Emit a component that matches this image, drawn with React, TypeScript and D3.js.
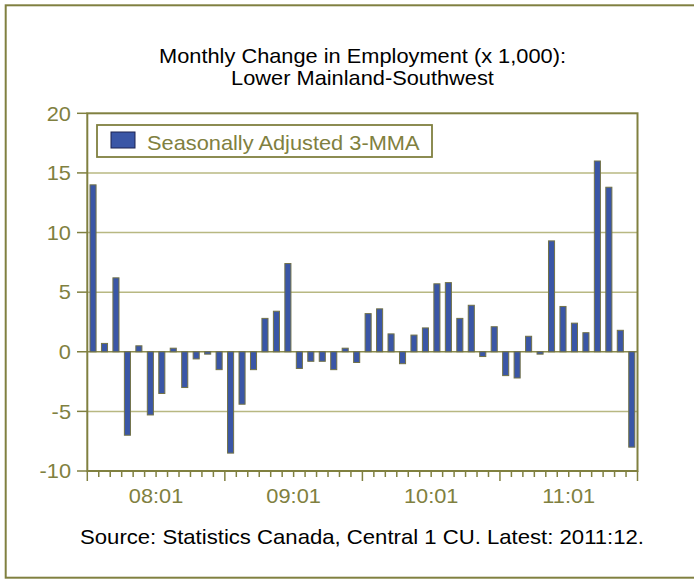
import React from "react";
import * as d3 from "d3";

const months: string[] = [];
for (let y = 2008; y <= 2011; y++) for (let m = 1; m <= 12; m++) months.push(`${y}:${String(m).padStart(2, "0")}`);

const values: number[] = [
  14.0, 0.7, 6.2, -7.0, 0.5, -5.3, -3.5, 0.3, -3.0, -0.6, -0.2, -1.5,
  -8.5, -4.4, -1.5, 2.8, 3.4, 7.4, -1.4, -0.8, -0.8, -1.5, 0.3, -0.9,
  3.2, 3.6, 1.5, -1.0, 1.4, 2.0, 5.7, 5.8, 2.8, 3.9, -0.4, 2.1,
  -2.0, -2.2, 1.3, -0.2, 9.3, 3.8, 2.4, 1.6, 16.0, 13.8, 1.8, -8.0,
];

const yTicks: number[] = [-10, -5, 0, 5, 10, 15, 20];
const xLabels: string[] = ["08:01", "09:01", "10:01", "11:01"];
const titleLines: string[] = ["Monthly Change in Employment (x 1,000):", "Lower Mainland-Southwest"];
const legendLabel = "Seasonally Adjusted 3-MMA";
const sourceText = "Source: Statistics Canada, Central 1 CU. Latest: 2011:12.";

const OLIVE = "#808040";
const BLUE = "#3a56a6";
const FONT = "'Liberation Sans', Arial, sans-serif";
const SX = 1.09;

const L = 87.3, R = 637.5, T = 113.3, B = 471;

function Txt({ x, y, anchor = "middle", fill = "#000", sx = SX, children }: any) {
  return (
    <g transform={`translate(${x},${y}) scale(${sx},1)`}>
      <text x={0} y={0} textAnchor={anchor} fontFamily={FONT} fontSize={20} fill={fill}>
        {children}
      </text>
    </g>
  );
}

export default function App() {
  const x = d3.scaleBand<string>().domain(months).range([L, R]).paddingInner(0.47).paddingOuter(0.235);
  const xi = d3.scaleLinear().domain([0, months.length]).range([L, R]);
  const y = d3.scaleLinear().domain([-10, 20]).range([B, T]);

  return (
    <svg width={694} height={579} style={{ position: "absolute", left: 0, top: 0, background: "#fff" }}>
      <rect x={5.7} y={5.3} width={700} height={572.4} fill="#fff" stroke={OLIVE} strokeWidth={2} />
      {titleLines.map((t, i) => (
        <Txt key={t} x={362.5} y={62.5 + i * 22}>{t}</Txt>
      ))}
      {/* gridlines */}
      {yTicks.filter((v) => v !== -10 && v !== 20 && v !== 0).map((v) => (
        <line key={v} x1={L} x2={R} y1={y(v)} y2={y(v)} stroke="#b8b882" strokeWidth={1.5} />
      ))}
      <line x1={L} x2={R} y1={y(0)} y2={y(0)} stroke="#8c8c4c" strokeWidth={1.5} />
      {/* bars */}
      {values.map((v, i) => (
        <rect
          key={months[i]}
          x={x(months[i])!}
          y={y(Math.max(0, v))}
          width={x.bandwidth()}
          height={Math.abs(y(v) - y(0))}
          fill={BLUE}
          stroke="#727248"
          strokeWidth={1}
        />
      ))}
      <rect x={L} y={T} width={R - L} height={B - T} fill="none" stroke={OLIVE} strokeWidth={2} />
      {/* y axis */}
      {yTicks.map((v) => (
        <g key={v}>
          <line x1={77} x2={L} y1={y(v)} y2={y(v)} stroke={OLIVE} strokeWidth={1.5} />
          <Txt x={71} y={y(v) + 7.2} anchor="end" fill={OLIVE}>{String(v)}</Txt>
        </g>
      ))}
      {/* x ticks */}
      {d3.range(months.length + 1).map((i) => (
        <line key={i} x1={xi(i)} x2={xi(i)} y1={B} y2={B + (i % 12 === 0 ? 10 : 6)} stroke={OLIVE} strokeWidth={1.5} />
      ))}
      {xLabels.map((lab, k) => (
        <Txt key={lab} x={xi(k * 12 + 6)} y={503} fill={OLIVE}>{lab}</Txt>
      ))}
      {/* legend */}
      <rect x={97} y={125} width={335} height={32} fill="#fff" stroke={OLIVE} strokeWidth={1.8} />
      <rect x={111} y={132} width={24} height={16} fill={BLUE} stroke="#1c2350" strokeWidth={1} />
      <Txt x={147} y={150} anchor="start" fill={OLIVE}>{legendLabel}</Txt>
      <Txt x={362} y={544} sx={1.107}>{sourceText}</Txt>
    </svg>
  );
}
